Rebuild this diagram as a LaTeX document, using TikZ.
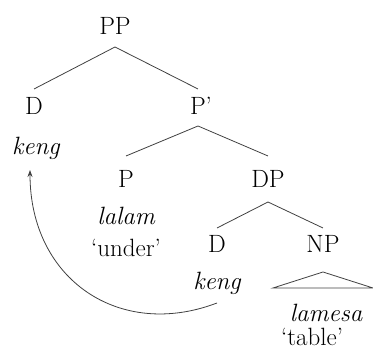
\documentclass[tikz,border=0pt]{standalone}
\usetikzlibrary{arrows.meta}
\begin{document}
\begin{tikzpicture}[x=1pt,y=1pt,
  lbl/.style={anchor=base,inner sep=0pt,font=\fontsize{25}{30}\selectfont},
  ilbl/.style={lbl,font=\fontsize{25}{30}\selectfont\itshape},
  branch/.style={draw=black!75,line width=0.8pt},
  mvarrow/.style={draw=black!75,line width=0.8pt,-{Stealth[length=7pt,width=5pt]}}]
\useasboundingbox (0,0) rectangle (373,350);
\node[lbl] (PP) at (115,315) {PP};
\node[lbl] (D1) at (34,235) {D};
\node[ilbl] (keng1) at (36,195) {keng};
\node[lbl] (Pbar) at (201,235) {P’};
\node[lbl] (P) at (126,162) {P};
\node[ilbl] (lalam) at (126,125) {lalam};
\node[lbl] (under) at (126,93) {‘under’};
\node[lbl] (DP) at (268,162) {DP};
\node[lbl] (D2) at (217,97) {D};
\node[ilbl] (keng2) at (217,60) {keng};
\node[lbl] (NP) at (323,97) {NP};
\node[ilbl] (lamesa) at (326,28) {lamesa};
\node[lbl] (table) at (312,4) {‘table’};
\draw[branch] ([yshift=-12pt]PP.base) -- ([yshift=26pt]D1.base);
\draw[branch] ([yshift=-12pt]PP.base) -- ([xshift=-3pt,yshift=26pt]Pbar.base);
\draw[branch] ([xshift=-3pt,yshift=-11pt]Pbar.base) -- ([yshift=32pt]P.base);
\draw[branch] ([xshift=-3pt,yshift=-11pt]Pbar.base) -- ([yshift=32pt]DP.base);
\draw[branch] ([yshift=-14pt]DP.base) -- ([yshift=25pt]D2.base);
\draw[branch] ([yshift=-14pt]DP.base) -- ([yshift=25pt]NP.base);
\draw[branch] ([yshift=-19pt]NP.base) -- ++(-50,-16) -- ++(100,0) -- cycle;
\draw[mvarrow] ([yshift=-13pt]keng2.base) .. controls (120,10) and (30,70) .. ([xshift=-6pt,yshift=-15pt]keng1.base);
\end{tikzpicture}
\end{document}
